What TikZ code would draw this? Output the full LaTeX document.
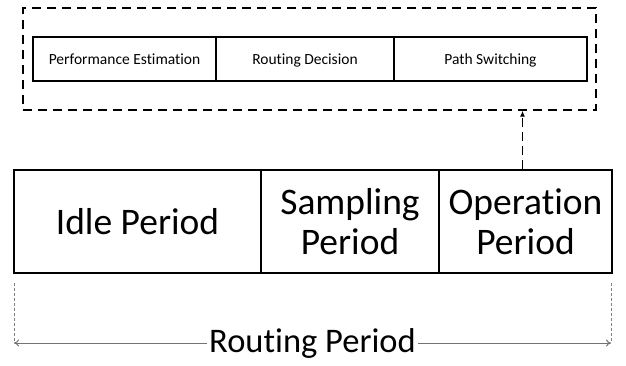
\documentclass[tikz,border=0pt]{standalone}
\usepackage{fontspec}
\setmainfont[Ligatures=NoCommon]{Carlito}
\usetikzlibrary{arrows.meta}
\begin{document}
\begin{tikzpicture}[x=1pt,y=-1pt,
  cell/.style={draw=black, line width=1.4pt, minimum height=44pt, inner sep=0pt,
    text height=11pt, text depth=1pt, font=\fontsize{15.5}{18}\selectfont},
  bigcell/.style={draw=black, line width=1.4pt, minimum height=103pt, inner sep=0pt,
    align=center, font=\fontsize{37.5}{40}\selectfont},
  outerbox/.style={draw=black, line width=1.4pt, dash pattern=on 9pt off 6pt, inner sep=0pt,
    minimum width=573pt, minimum height=102pt},
  guide/.style={draw=gray, line width=0.8pt, dash pattern=on 3pt off 2pt},
  spanarrow/.style={draw=gray!90!black, line width=1pt, {To[length=5pt,width=7pt]}-{To[length=5pt,width=7pt]}},
  link/.style={draw=black, line width=1.4pt, dash pattern=on 9pt off 5pt, -{Latex[length=6pt,width=5pt]}}
]
\useasboundingbox (0,0) rectangle (626,365);
% outer dashed box
\node[outerbox] (outer) at (309.5,59) {};
% inner cells
\node[cell, minimum width=183pt] (pe) at (124.5,59) {Performance Estimation};
\node[cell, minimum width=178pt] (rd) at (305,59) {Routing Decision};
\node[cell, minimum width=193pt] (ps) at (490.5,59) {Path Switching};
% bottom cells
\node[bigcell, minimum width=247pt] (idle) at (137.5,221.5) {Idle Period};
\node[bigcell, minimum width=178pt] (samp) at (350,221.5) {Sampling\\Period};
\node[bigcell, minimum width=173pt] (oper) at (525.5,221.5) {Operation\\Period};
% connector
\draw[link] ([xshift=-3pt]oper.north) -- ([xshift=-3pt]oper.north |- outer.south);
% routing period span
\coordinate (l1) at (14,283);
\coordinate (l2) at (14,343);
\coordinate (r1) at (611,283);
\coordinate (r2) at (611,343);
\draw[guide] (l1) -- (l2);
\draw[guide] (r1) -- (r2);
\draw[spanarrow] (l2) -- (r2) node[midway, fill=white, inner sep=2pt, font=\fontsize{34.5}{38}\selectfont] (rp) {Routing Period};
\end{tikzpicture}
\end{document}
